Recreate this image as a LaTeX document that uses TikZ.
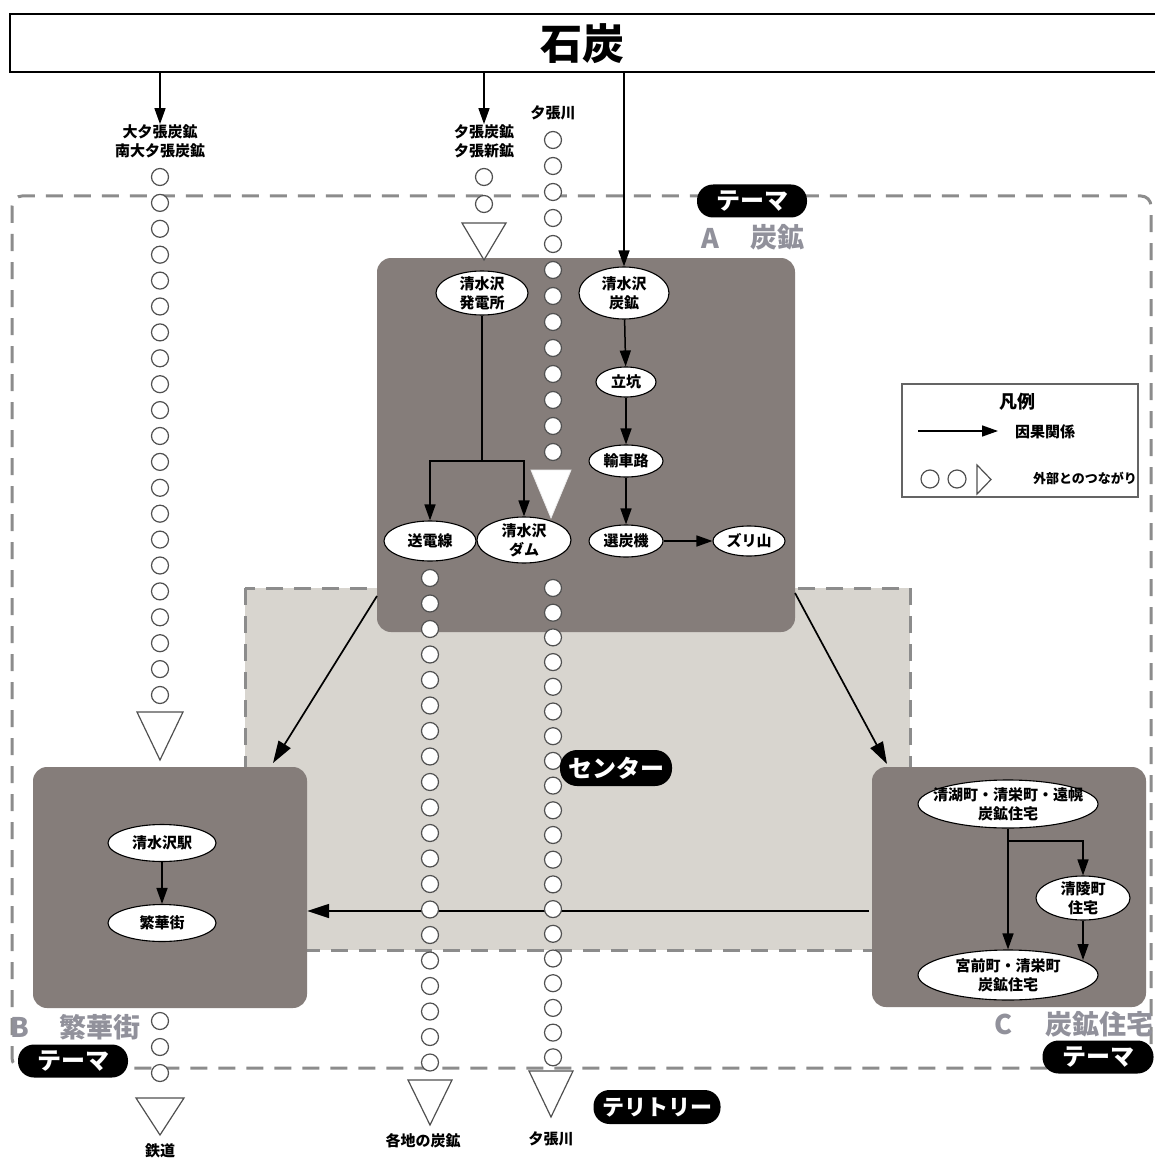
\documentclass[tikz,border=0pt]{standalone}
\usepackage{fontspec}
\usetikzlibrary{shapes.geometric,arrows.meta}
\newfontfamily\jp{Noto Sans CJK JP}
\definecolor{boxcol}{RGB}{133,125,122}
\definecolor{centercol}{RGB}{216,213,207}
\definecolor{dashcol}{RGB}{140,140,140}
\definecolor{graylbl}{RGB}{145,145,155}
\definecolor{extline}{RGB}{80,80,80}
\definecolor{legline}{RGB}{100,100,100}
\newcommand\fz[2]{\fontsize{#1}{#2}\selectfont\jp\bfseries}
\begin{document}
\begin{tikzpicture}[x=1pt,y=-1pt,
  ell/.style={ellipse, draw=black, line width=1.1pt, fill=white, inner sep=0pt},
  lbl/.style={font=\fz{15}{19}, align=center, inner sep=0pt},
  arr/.style={line width=1.5pt, -{Triangle[length=16pt,width=11pt]}},
  bigarr/.style={line width=1.7pt, -{Triangle[length=22pt,width=14pt]}},
  boxA/.style={fill=boxcol, rounded corners=14pt, draw=none, inner sep=0pt},
  pill/.style={fill=black, text=white, rounded corners=16pt, inner sep=0pt, minimum height=33pt, font=\fz{24}{24}},
  glbl/.style={text=graylbl, font=\fz{27}{27}, inner sep=0pt},
  extc/.style={draw=extline, fill=white, line width=1.2pt},
  tri/.style={draw=extline, fill=white, line width=1.2pt, line join=miter},
  dashb/.style={draw=dashcol, line width=3pt, dash pattern=on 17pt off 11pt}
]
\useasboundingbox (0,0) rectangle (1155,1158);
\fill[white] (0,0) rectangle (1155,1158);

% regions
\draw[dashb, rounded corners=10pt] (12,196) rectangle (1151,1068);
\draw[dashb, fill=centercol] (245,588) rectangle (910,950);

% top bar
\node[draw=black, line width=2.5pt, fill=white, minimum width=1150pt, minimum height=58pt, inner sep=0pt] (bar) at (585,43) {};
\node[font=\fz{42}{42}, inner sep=0pt] (coal) at (582,44) {石炭};

% boxes
\node[boxA, minimum width=418pt, minimum height=374pt] (A) at (586,445) {};
\node[boxA, minimum width=274pt, minimum height=241pt] (B) at (170,887.5) {};
\node[boxA, minimum width=274pt, minimum height=240pt] (C) at (1009,887) {};

% big arrows
\coordinate (aL) at (377,596);
\coordinate (bT) at (273,763);
\coordinate (aR) at (795,593);
\coordinate (cT) at (887,764);
\coordinate (cL) at (869,911);
\draw[bigarr] (aL) -- (bT);
\draw[bigarr] (aR) -- (cT);
\draw[bigarr] (cL) -- (B.east |- cL);

% external connection columns
\foreach \i in {0,...,20} \draw[extc] (160,{177+25.9*\i}) circle (8.5pt);
\draw[tri] (137,712) -- (183,712) -- (160,760) -- cycle;
\foreach \y in {1021,1047,1073} \draw[extc] (160,\y) circle (8.5pt);
\draw[tri] (136,1098) -- (184,1098) -- (160,1135) -- cycle;

\foreach \y in {177,204} \draw[extc] (484,\y) circle (8.5pt);
\draw[tri] (462,223) -- (506,223) -- (484,260) -- cycle;

\foreach \i in {0,...,12} \draw[extc] (553,{140+26*\i}) circle (8.5pt);
\draw[fill=white, draw=white!85!gray, line width=0.8pt] (531,470) -- (571,470) -- (551,518) -- cycle;

\foreach \i in {0,...,19} \draw[extc] (430,{578+25.5*\i}) circle (8.5pt);
\draw[tri] (408,1080) -- (452,1080) -- (430,1125) -- cycle;

\foreach \i in {0,...,19} \draw[extc] (553,{588+24.7*\i}) circle (8.5pt);
\draw[tri] (529,1071) -- (573,1071) -- (551,1117) -- cycle;

% top labels
\node[lbl] (oyu) at (160,141) {大夕張炭鉱\\南大夕張炭鉱};
\node[lbl] (yub) at (484,141) {夕張炭鉱\\夕張新鉱};
\node[lbl] (ygawa) at (553,113) {夕張川};

% bottom labels
\node[lbl] (tetsu) at (160,1151) {鉄道};
\node[lbl] (kakuchi) at (423,1141) {各地の炭鉱};
\node[lbl] (ygawa2) at (551,1139) {夕張川};

% box A nodes
\node[ell, minimum width=92pt, minimum height=44pt, label={[lbl]center:清水沢\\発電所}] (hatsu) at (482,293) {};
\node[ell, minimum width=90pt, minimum height=52pt, label={[lbl]center:清水沢\\炭鉱}] (tanko) at (624,293) {};
\node[ell, minimum width=60pt, minimum height=30pt, label={[lbl]center:立坑}] (tatekou) at (626,382) {};
\node[ell, minimum width=74pt, minimum height=32pt, label={[lbl]center:輸車路}] (yusha) at (626,461) {};
\node[ell, minimum width=74pt, minimum height=32pt, label={[lbl]center:選炭機}] (senta) at (626,541) {};
\node[ell, minimum width=72pt, minimum height=30pt, label={[lbl]center:ズリ山}] (zuri) at (749,541) {};
\node[ell, minimum width=92pt, minimum height=40pt, label={[lbl]center:送電線}] (soden) at (430,541) {};
\node[ell, minimum width=94pt, minimum height=46pt, label={[lbl]center:清水沢\\ダム}] (dam) at (524,540) {};

\draw[arr] (bar.south -| oyu) -- (oyu.north);
\draw[arr] (bar.south -| yub) -- (yub.north);
\draw[arr] (bar.south -| tanko) -- (tanko.north);

\coordinate (hj) at (hatsu.south |- 0,461);
\draw[line width=1.5pt] (hatsu.south) -- (hj);
\draw[arr] (hj) -| (soden.north);
\draw[arr] (hj) -| (dam.north);
\draw[arr] (tanko) -- (tatekou);
\draw[arr] (tatekou) -- (yusha);
\draw[arr] (yusha) -- (senta);
\draw[arr] (senta) -- (zuri);

% box B nodes
\node[ell, minimum width=108pt, minimum height=37pt, label={[lbl]center:清水沢駅}] (eki) at (162,843) {};
\node[ell, minimum width=108pt, minimum height=37pt, label={[lbl]center:繁華街}] (hanka) at (162,923) {};
\draw[arr] (eki) -- (hanka);

% box C nodes
\node[ell, minimum width=180pt, minimum height=48pt, label={[lbl]center:清湖町・清栄町・遠幌\\炭鉱住宅}] (c1) at (1008,804) {};
\node[ell, minimum width=94pt, minimum height=44pt, label={[lbl]center:清陵町\\住宅}] (c2) at (1083,898) {};
\node[ell, minimum width=180pt, minimum height=50pt, label={[lbl]center:宮前町・清栄町\\炭鉱住宅}] (c3) at (1008,975) {};
\coordinate (cj) at (c1.south |- 0,841);
\coordinate (c3e) at (1083,960);
\draw[line width=1.5pt] (c1.south) -- (cj);
\draw[arr] (cj) -- (c3.north);
\draw[arr] (cj) -| (c2.north);
\draw[arr] (c2.south) -- (c3e);

% legend
\node[draw=legline, line width=1.5pt, minimum width=236pt, minimum height=113pt, inner sep=0pt] (leg) at (1020,440.5) {};
\node[font=\fz{18}{18}, inner sep=0pt] (legt) at (1017,402) {凡例};
\coordinate (la1) at (918,431);
\coordinate (la2) at (998,431);
\draw[arr] (la1) -- (la2);
\node[font=\fz{15}{15}, inner sep=0pt] (legc) at (1045,432) {因果関係};
\draw[extc] (930,479) circle (9pt);
\draw[extc] (957,479) circle (9pt);
\draw[tri] (977,465) -- (991,479.5) -- (977,494) -- cycle;
\node[font=\fz{13}{13}, inner sep=0pt] (lege) at (1085,478) {外部とのつながり};

% gray labels
\node[glbl] (lA) at (710,238) {A};
\node[glbl] (lAt) at (777,237) {炭鉱};
\node[glbl] (lB) at (20,1027) {B};
\node[glbl] (lBt) at (100,1027) {繁華街};
\node[glbl] (lC) at (1003,1024) {C};
\node[glbl] (lCt) at (1099,1024) {炭鉱住宅};

% pills
\node[pill, minimum width=110pt] (p1) at (752,201) {テーマ};
\node[pill, minimum width=112pt, minimum height=36pt, rounded corners=17pt] (p2) at (616,768) {センター};
\node[pill, minimum width=127pt, minimum height=34pt, font=\fz{22}{22}] (p3) at (657,1107) {テリトリー};
\node[pill, minimum width=110pt] (p4) at (73,1061) {テーマ};
\node[pill, minimum width=111pt] (p5) at (1098,1057) {テーマ};
\end{tikzpicture}
\end{document}
